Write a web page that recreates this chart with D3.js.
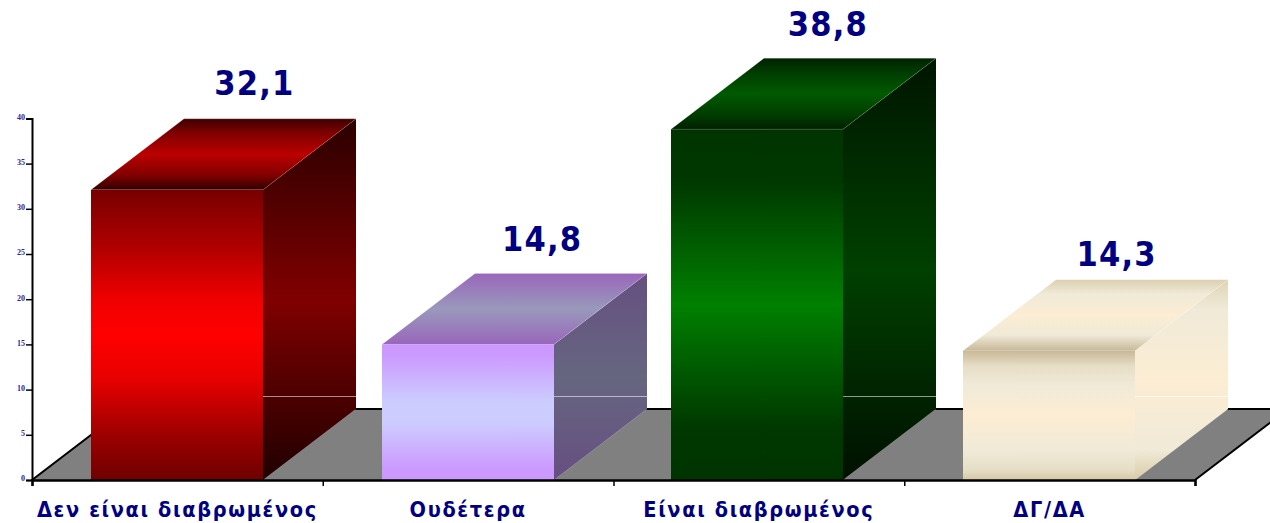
<!DOCTYPE html>
<html><head><meta charset="utf-8">
<script src="https://cdn.jsdelivr.net/npm/d3@7"></script>
<style>
html,body{margin:0;padding:0;background:#fff;overflow:hidden}
svg{display:block}
.cat{font:bold 21.5px "DejaVu Sans Condensed","DejaVu Sans";font-stretch:condensed;letter-spacing:1.65px;fill:#000080;text-anchor:middle}
.val{font:bold 34px "DejaVu Sans Condensed","DejaVu Sans";font-stretch:condensed;letter-spacing:1.2px;fill:#000080;text-anchor:middle}
.yt text{font:bold 8px "Liberation Serif";fill:#2a2a9a}
</style></head><body>
<svg id="c" width="1270" height="523"></svg>
<script>
const categories = ["Δεν είναι διαβρωμένος","Ουδέτερα","Είναι διαβρωμένος","ΔΓ/ΔΑ"];
const values = [32.1,15.0,38.8,14.3];
const valueLabels = ["32,1","14,8","38,8","14,3"];
const yTicks = [0,5,10,15,20,25,30,35,40];
const frontStops = [
 [[0,"#780000"],[.2,"#b00000"],[.38,"#f00000"],[.5,"#ff0000"],[.65,"#e80000"],[.86,"#980000"],[1,"#700000"]],
 [[0,"#cc99ff"],[.08,"#cc99ff"],[.42,"#ccccff"],[.58,"#ccccff"],[.92,"#cc99ff"],[1,"#cc99ff"]],
 [[0,"#003300"],[.15,"#003800"],[.5,"#008000"],[.85,"#003800"],[1,"#003300"]],
 [[0,"#c8b898"],[.12,"#e6dec6"],[.27,"#f0ead8"],[.42,"#f9ecd4"],[.5,"#fcedd3"],[.58,"#f9ecd4"],[.77,"#f0ead8"],[.92,"#e6dec6"],[1,"#d6c8a6"]]
];
const topStops = [
 [[0,"#3d0000"],[.2,"#800000"],[.5,"#bb0000"],[.8,"#800000"],[1,"#300000"]],
 [[0,"#9966bb"],[.5,"#9999bb"],[1,"#9966bb"]],
 [[0,"#002200"],[.2,"#003c00"],[.5,"#005a00"],[.8,"#003c00"],[1,"#002000"]],
 [[0,"#dccfb0"],[.2,"#f0ead8"],[.5,"#fcedd3"],[.78,"#f0ead8"],[1,"#c8b898"]]
];
const sideStops = [
 [[0,"#2a0000"],[.5,"#800000"],[1,"#200000"]],
 [[0,"#664f80"],[.5,"#666680"],[1,"#664f80"]],
 [[0,"#001500"],[.5,"#004000"],[1,"#001000"]],
 [[0,"#dfd4b6"],[.15,"#f0ead8"],[.5,"#fcedd3"],[.85,"#f0ead8"],[1,"#d8cba8"]]
];

const left=32,right=1195,base=480,yTop=118.4;
const dx=93,dy=71,bw=172;
const barNudge=[0,0,-2,-1];
const labelDx=[77,74,69,67], labelGap=[24,22,22,14];
const sideLineY=396;

const svg=d3.select("#c");
const x=d3.scaleBand().domain(categories).range([left,right]);
const y=d3.scaleLinear().domain([0,40]).range([base,yTop]);
const line=d3.line();
const defs=svg.append("defs");
function grad(id,stops){
  const g=defs.append("linearGradient").attr("id",id).attr("x1",0).attr("y1",0).attr("x2",0).attr("y2",1);
  g.selectAll("stop").data(stops).join("stop").attr("offset",d=>d[0]).attr("stop-color",d=>d[1]);
}
categories.forEach((c,i)=>{grad("f"+i,frontStops[i]);grad("t"+i,topStops[i]);grad("s"+i,sideStops[i]);});

// floor
svg.append("path").attr("fill","#808080")
  .attr("d",line([[left,base],[left+dx,base-dy],[right+dx,base-dy],[right,base]])+"Z");
svg.append("path").attr("fill","none").attr("stroke","#000").attr("stroke-width",2)
  .attr("d",line([[left,base],[left+dx,base-dy],[right+dx,base-dy]]));
svg.append("path").attr("fill","none").attr("stroke","#000").attr("stroke-width",2)
  .attr("d",line([[right,base],[right+dx,base-dy]]));

// bars
const bars=svg.selectAll("g.bar").data(categories).join("g").attr("class","bar");
const X0=(d,i)=>Math.round(x(d)+(x.bandwidth()-bw)/2+barNudge[i]);
const edge="rgba(255,255,255,.25)";
bars.append("path").attr("fill",(d,i)=>`url(#s${i})`)
  .attr("d",(d,i)=>{const a=X0(d,i)+bw,t=y(values[i]);return line([[a,base],[a,t],[a+dx,t-dy],[a+dx,base-dy]])+"Z";});
bars.append("path").attr("fill","none").attr("stroke",edge).attr("stroke-width",.7)
  .attr("d",(d,i)=>{const a=X0(d,i)+bw;return line([[a,base],[a+dx,base-dy]]);});
bars.append("line").attr("stroke","rgba(255,255,255,.55)").attr("stroke-width",1)
  .attr("x1",(d,i)=>X0(d,i)+bw).attr("x2",(d,i)=>X0(d,i)+bw+dx)
  .attr("y1",sideLineY+.5).attr("y2",sideLineY+.5);
bars.append("path").attr("fill",(d,i)=>`url(#t${i})`).attr("stroke",edge).attr("stroke-width",.6)
  .attr("d",(d,i)=>{const a=X0(d,i),t=y(values[i]);return line([[a,t],[a+dx,t-dy],[a+bw+dx,t-dy],[a+bw,t]])+"Z";});
bars.append("rect").attr("fill",(d,i)=>`url(#f${i})`)
  .attr("x",X0).attr("width",bw).attr("y",(d,i)=>y(values[i])).attr("height",(d,i)=>base-y(values[i]));

// axes
const yAxis=svg.append("g").attr("class","yt").attr("transform",`translate(${left},0)`)
  .call(d3.axisLeft(y).tickValues(yTicks).tickSize(6).tickPadding(1));
yAxis.select(".domain").attr("stroke","#000").attr("stroke-width",2);
yAxis.selectAll(".tick line").attr("stroke","#000").attr("stroke-width",1.5);
yAxis.selectAll(".tick text").attr("dy","0.1em");
const edges=d3.scaleLinear().domain([0,categories.length]).range([left,right]);
const xAxis=svg.append("g").attr("transform",`translate(0,${base})`)
  .call(d3.axisBottom(edges).tickValues(d3.range(categories.length+1)).tickSize(6).tickFormat(""));
xAxis.select(".domain").attr("stroke","#000").attr("stroke-width",2.5);
xAxis.selectAll(".tick line").attr("stroke","#000").attr("stroke-width",1.5);

// text
svg.selectAll("text.cat").data(categories).join("text").attr("class","cat")
  .attr("x",d=>x(d)+x.bandwidth()/2).attr("y",517).text(d=>d);
svg.selectAll("text.val").data(valueLabels).join("text").attr("class","val")
  .attr("x",(d,i)=>x(categories[i])+x.bandwidth()/2+labelDx[i])
  .attr("y",(d,i)=>y(values[i])-dy-labelGap[i]).text(d=>d);
</script></body></html>
